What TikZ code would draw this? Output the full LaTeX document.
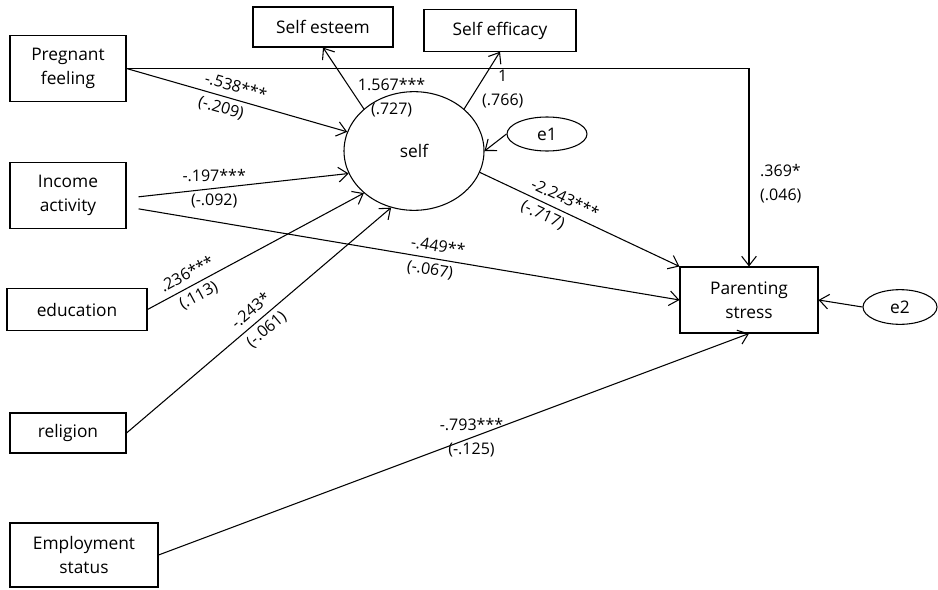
\documentclass[tikz,border=0pt]{standalone}
\usepackage{fontspec}
\setmainfont{Open Sans}
\usetikzlibrary{arrows.meta, shapes.geometric}

\begin{document}
\begin{tikzpicture}[x=0.75pt, y=-0.75pt, >={Straight Barb[length=7pt,width=11pt]},
  box/.style={draw, rectangle, line width=0.8pt, align=center, font=\fontsize{13}{18}\selectfont},
  latent/.style={draw, ellipse, line width=0.8pt, font=\fontsize{13}{18}\selectfont},
  coef/.style={font=\fontsize{12}{18}\selectfont, inner sep=1pt, align=center},
  link/.style={->, line width=0.8pt}]
\useasboundingbox (0,0) rectangle (938,589);

\node[box, minimum width=87pt, minimum height=50pt] (preg) at (68,68.5) {Pregnant\\feeling};
\node[box, minimum width=87pt, minimum height=49pt] (income) at (68,195.5) {Income\\activity};
\node[box, minimum width=105pt, minimum height=31pt] (edu) at (77,309.5) {education};
\node[box, minimum width=87pt, minimum height=30pt] (relig) at (68,433) {religion};
\node[box, minimum width=111pt, minimum height=48pt] (employ) at (84,555) {Employment\\status};
\node[box, minimum width=105pt, minimum height=30pt] (esteem) at (323,27) {Self esteem};
\node[box, minimum width=114pt, minimum height=31pt] (efficacy) at (500,30.5) {Self efficacy};
\node[latent, minimum width=105pt, minimum height=89pt] (self) at (414,151) {self};
\node[latent, minimum width=60pt, minimum height=25.5pt] (e1) at (547,134) {e1};
\node[box, minimum width=103.5pt, minimum height=49.5pt] (stress) at (749,300) {Parenting\\stress};
\node[latent, minimum width=55.5pt, minimum height=26pt] (e2) at (900,307) {e2};

\draw[link] (preg.east) -- node[coef, sloped, pos=0.48, align=left] {-.538***\\(-.209)} (self);
\draw[link] ([xshift=9pt,yshift=-1pt]income.east) -- node[coef, pos=0.36] {-.197***\\(-.092)} (self.199);
\draw[link] (edu.east) -- node[coef, sloped, pos=0.21] {.236***\\(.113)} (self.220);
\draw[link] (relig.east) -- node[coef, sloped, pos=0.5] {-.243*\\(-.061)} (self.248);

\draw[link] (self.140) -- node[coef, pos=0.19, anchor=west] {1.567***\\(.727)} (esteem.south);
\draw[link] (self.40) -- node[coef, pos=0.34, anchor=west, xshift=3pt] {1\\(.766)} (efficacy.south);
\draw[link] (e1.west) -- (self.east);

\draw[link] (self.-18) -- node[coef, sloped, pos=0.4, align=left] {-2.243***\\(-.717)} (stress.north west);
\draw[link] ([xshift=9pt,yshift=-10pt]income.east) -- node[coef, sloped, pos=0.55, align=left] {-.449**\\(-.067)} (stress.west);
\draw[link] (employ.east) -- node[coef, pos=0.53] {-.793***\\(-.125)} (stress.south);
\draw[link] (preg.east) -- (stress.north |- preg.east) -- node[coef, pos=0.58, anchor=west, align=left, xshift=7pt] {.369*\\(.046)} (stress.north);
\draw[link] (e2.west) -- (stress.east);
\end{tikzpicture}
\end{document}
